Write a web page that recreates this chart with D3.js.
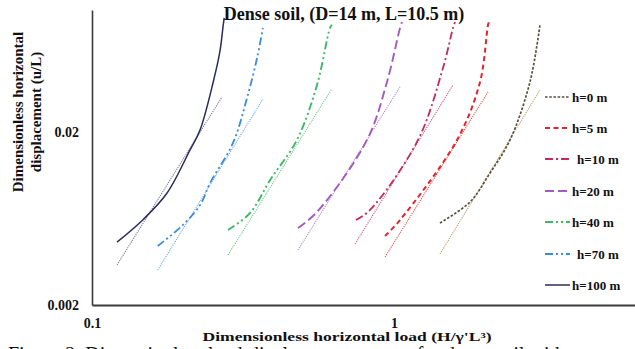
<!DOCTYPE html>
<html>
<head>
<meta charset="utf-8">
<script src="https://cdn.jsdelivr.net/npm/d3@7/dist/d3.min.js"></script>
<style>
  html, body { margin: 0; padding: 0; background: #fff; overflow: hidden; }
  svg { display: block; }
  text { font-family: "Liberation Serif", "Times New Roman", serif; font-weight: bold; fill: #111; }
</style>
</head>
<body>
<svg id="chart" width="635" height="349"></svg>
<script>
// Pile-head depth cases (legend order)
const series = ["h=0 m", "h=5 m", "h=10 m", "h=20 m", "h=40 m", "h=70 m", "h=100 m"];

// Load-displacement curves: [H/γ'L³, u/L]
const curve_h0 = [[1.42, 0.00594], [1.785, 0.00784], [2.08, 0.01152], [2.422, 0.01785], [2.82, 0.0385], [3.043, 0.082]];
const curve_h5 = [[0.934, 0.00499], [1.047, 0.00617], [1.617, 0.01785], [1.927, 0.0385], [2.048, 0.082], [2.064, 0.0853]];
const curve_h10 = [[0.748, 0.00617], [0.833, 0.00705], [1.201, 0.01785], [1.453, 0.0464], [1.568, 0.0788], [1.592, 0.0853]];
const curve_h20 = [[0.481, 0.00555], [0.556, 0.00687], [0.814, 0.01785], [0.948, 0.0385], [1.047, 0.0788], [1.063, 0.0853]];
const curve_h40 = [[0.282, 0.00541], [0.334, 0.00678], [0.389, 0.0105], [0.477, 0.01785], [0.556, 0.037], [0.614, 0.0788], [0.623, 0.082]];
const curve_h70 = [[0.165, 0.00437], [0.2, 0.00578], [0.228, 0.00753], [0.246, 0.01009], [0.293, 0.01715], [0.326, 0.0311], [0.352, 0.0529], [0.368, 0.0788]];
const curve_h100 = [[0.121, 0.0046], [0.1475, 0.0062], [0.177, 0.0088], [0.211, 0.0156], [0.228, 0.0204], [0.252, 0.0385], [0.265, 0.0573], [0.272, 0.082], [0.274, 0.09]];

// Fitted straight lines (log-log) for each case: [start, end]
const fit_h0 = [[1.42, 0.00393], [3.043, 0.0346]];
const fit_h5 = [[0.934, 0.00378], [2.048, 0.0337]];
const fit_h10 = [[0.743, 0.00449], [1.568, 0.037]];
const fit_h20 = [[0.481, 0.00415], [1.047, 0.0361]];
const fit_h40 = [[0.282, 0.00388], [0.619, 0.0346]];
const fit_h70 = [[0.165, 0.00318], [0.368, 0.0307]];
const fit_h100 = [[0.121, 0.0034], [0.2695, 0.0316]];

const curves = [curve_h0, curve_h5, curve_h10, curve_h20, curve_h40, curve_h70, curve_h100];
const fits = [fit_h0, fit_h5, fit_h10, fit_h20, fit_h40, fit_h70, fit_h100];

const xTicks = [0.1, 1];
const xTickLabels = ["0.1", "1"];
const yTicks = [0.002, 0.02];
const yTickLabels = ["0.002", "0.02"];

// Styles per case
const colors = ["#5a5040", "#e2242c", "#c42a5c", "#a45bbd", "#3fb865", "#3d8bd6", "#2b2d5c"];
const fitColors = ["#c0a070", "#e4564e", "#cf5f88", "#b68ac9", "#7cc88e", "#7aaee0", "#7c7a96"];
const dashes = ["2.6,1.6", "5,3.5", "8,3,2,3", "9,4", "8,3,2,3,2,3", "8,3,2,3,2,3", null];
const widths = [1.7, 2, 1.8, 1.9, 1.9, 1.8, 1.5];

const svg = d3.select("#chart");

const x = d3.scaleLog().domain([0.1, 10]).range([92, 696]);
const y = d3.scaleLog().domain([0.002, 0.1]).range([305, 10]);

// Plot clip
svg.append("defs").append("clipPath").attr("id", "plot")
  .append("rect").attr("x", 92).attr("y", 10).attr("width", 543).attr("height", 295);

// Axes (lines only, labels drawn separately)
const xAxis = d3.axisBottom(x).tickValues(xTicks).tickSize(0).tickFormat((d, i) => xTickLabels[i]);
const gx = svg.append("g").attr("transform", "translate(0,305)").call(xAxis);
gx.select(".domain").attr("stroke", "#3a3a3a").attr("stroke-width", 2.2);
gx.selectAll("text").attr("dy", null).attr("y", 23).style("font-size", "14px").attr("fill", "#111");

const yAxis = d3.axisLeft(y).tickValues(yTicks).tickSize(0).tickFormat((d, i) => yTickLabels[i]);
const gy = svg.append("g").attr("transform", "translate(92,0)").call(yAxis);
gy.select(".domain").attr("stroke", "#3a3a3a").attr("stroke-width", 1.6);
gy.selectAll("text").attr("x", -13).attr("dy", "0.35em").style("font-size", "14px").attr("fill", "#111");

const line = d3.line()
  .x(d => x(d[0]))
  .y(d => y(d[1]))
  .curve(d3.curveCatmullRom.alpha(0.5));

const plot = svg.append("g").attr("clip-path", "url(#plot)");

// Fitted lines (thin dotted)
fits.forEach((f, i) => {
  plot.append("path")
    .attr("d", d3.line().x(d => x(d[0])).y(d => y(d[1]))(f))
    .attr("fill", "none")
    .attr("stroke", fitColors[i])
    .attr("stroke-width", 1.1)
    .attr("stroke-dasharray", "1.2,1");
});

// Load-displacement curves
curves.forEach((c, i) => {
  plot.append("path")
    .attr("d", line(c))
    .attr("fill", "none")
    .attr("stroke", colors[i])
    .attr("stroke-width", widths[i])
    .attr("stroke-dasharray", dashes[i]);
});

// Legend
const legendY = [97, 128, 159, 191, 222, 254, 285];
const legend = svg.append("g");
series.forEach((s, i) => {
  legend.append("line")
    .attr("x1", 545).attr("x2", 570)
    .attr("y1", legendY[i]).attr("y2", legendY[i])
    .attr("stroke", colors[i])
    .attr("stroke-width", widths[i])
    .attr("stroke-dasharray", dashes[i]);
  legend.append("text")
    .attr("x", i === 2 || i === 5 ? 577 : 572)
    .attr("y", legendY[i])
    .attr("dy", "0.35em")
    .style("font-size", "13px")
    .text(s);
});

// Title
svg.append("text")
  .attr("x", 344).attr("y", 20)
  .attr("text-anchor", "middle")
  .style("font-size", "18px")
  .text("Dense soil, (D=14 m, L=10.5 m)");

// Axis titles
const yTitle = svg.append("text")
  .attr("transform", "translate(23,112) rotate(-90)")
  .attr("text-anchor", "middle")
  .style("font-size", "15px");
yTitle.append("tspan").attr("x", 0).attr("y", 0).text("Dimensionless horizontal");
yTitle.append("tspan").attr("x", 0).attr("y", 18).text("displacement (u/L)");

svg.append("text")
  .attr("x", 347).attr("y", 341)
  .attr("text-anchor", "middle")
  .style("font-size", "12px")
  .attr("textLength", 289)
  .attr("lengthAdjust", "spacingAndGlyphs")
  .text("Dimensionless horizontal load (H/\u03b3'L\u00b3)");

// Caption line running off the bottom edge
svg.append("text")
  .attr("x", 8).attr("y", 361)
  .style("font-size", "20px")
  .style("font-weight", "normal")
  .attr("fill", "#444")
  .text("Figure 2. Dimensionless load-displacement curves for dense soil with");
</script>
</body>
</html>
